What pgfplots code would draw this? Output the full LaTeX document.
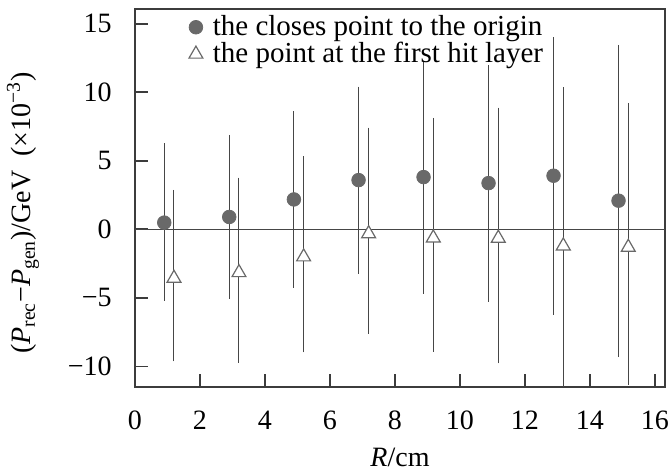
\documentclass[border=0pt]{standalone}
\usepackage{fontspec}
\setmainfont{Liberation Serif}
\usepackage{pgfplots}
\pgfplotsset{compat=1.18}
\definecolor{ptgray}{RGB}{105,105,105}
\definecolor{bargray}{RGB}{70,70,70}
\definecolor{framegray}{RGB}{60,60,60}
\begin{document}
\begin{tikzpicture}
\begin{axis}[
    scale only axis,
    width=265pt, height=188.7pt,
    xmin=0, xmax=16.31,
    ymin=-11.48, ymax=16.05,
    xtick={0,2,...,16},
    ytick={-10,-5,0,5,10,15},
    yticklabels={−10,−5,0,5,10,15},
    tick pos=left,
    tick align=inside,
    major tick length=6.5pt,
    axis line style={framegray, line width=0.9pt},
    every tick/.style={framegray, line width=0.9pt},
    /pgf/number format/assume math mode=true,
    tick label style={font=\fontsize{14}{15}\selectfont, inner sep=0pt},
    yticklabel style={anchor=east, xshift=-11.5pt},
    xticklabel style={anchor=center, yshift=-16.65pt},
    xlabel={\textit{R}/cm},
    ylabel={(\textit{P}\textsubscript{rec}−\textit{P}\textsubscript{gen})/GeV\ \ (×10\textsuperscript{−3})},
    label style={font=\fontsize{14}{15}\selectfont},
    xlabel style={at={([yshift=-35.6pt]axis description cs:0.5,0)}, anchor=center},
    ylabel style={at={([xshift=-56pt,yshift=-7.5pt]axis description cs:0,0.5)}, anchor=center},
    legend style={at={([xshift=26.8pt,yshift=-3pt]axis description cs:0,1)},
        anchor=north west, draw=none, fill=none,
        font=\fontsize{14.5}{15}\selectfont, row sep=1.8pt,
        inner sep=0pt, nodes={inner sep=0pt}},
    legend cell align=left,
    legend image code/.code={\draw[#1] plot coordinates {(0pt,0pt)};},
]
\addplot[bargray, line width=0.6pt, forget plot] coordinates {(0,0) (16.31,0)};
\addplot[only marks, mark=*, mark size=3.4pt,
    mark options={fill=ptgray, draw=ptgray},
    error bars/.cd, y dir=both, y explicit,
    error mark options={bargray, mark size=1pt, line width=0.5pt},
    error bar style={bargray, line width=0.5pt}]
coordinates {
 (0.90,0.49)  += (0,5.63)  -= (0,5.54)
 (2.90,0.90)  += (0,5.85)  -= (0,5.83)
 (4.89,2.18)  += (0,6.29)  -= (0,6.28)
 (6.88,3.59)  += (0,6.68)  -= (0,6.70)
 (8.88,3.81)  += (0,8.33)  -= (0,8.37)
 (10.88,3.37) += (0,8.47)  -= (0,8.52)
 (12.88,3.91) += (0,9.97)  -= (0,9.98)
 (14.88,2.09) += (0,11.21) -= (0,11.26)
};
\addlegendentry{\hspace{5pt}the closes point to the origin}
\addplot[only marks, mark=triangle*, mark size=4pt,
    mark options={fill=white, draw=ptgray, line width=0.6pt},
    error bars/.cd, y dir=both, y explicit,
    error mark options={bargray, mark size=1pt, line width=0.5pt},
    error bar style={bargray, line width=0.5pt}]
coordinates {
 (1.20,-3.57)  += (0,6.31)  -= (0,5.92)
 (3.20,-3.16)  += (0,6.78)  -= (0,6.43)
 (5.19,-2.01)  += (0,7.18)  -= (0,6.82)
 (7.19,-0.32)  += (0,7.60)  -= (0,7.16)
 (9.18,-0.63)  += (0,8.62)  -= (0,8.16)
 (11.18,-0.65) += (0,9.39)  -= (0,8.99)
 (13.18,-1.21) += (0,11.43) -= (0,11.30)
 (15.18,-1.31) += (0,10.39) -= (0,9.90)
};
\addlegendentry{\hspace{5pt}the point at the first hit layer}
\end{axis}
\pgfresetboundingbox
\useasboundingbox ([xshift=-67.5pt,yshift=-42.15pt]current axis.south west)
    rectangle ([xshift=2pt,yshift=4.65pt]current axis.north east);
\end{tikzpicture}
\end{document}
